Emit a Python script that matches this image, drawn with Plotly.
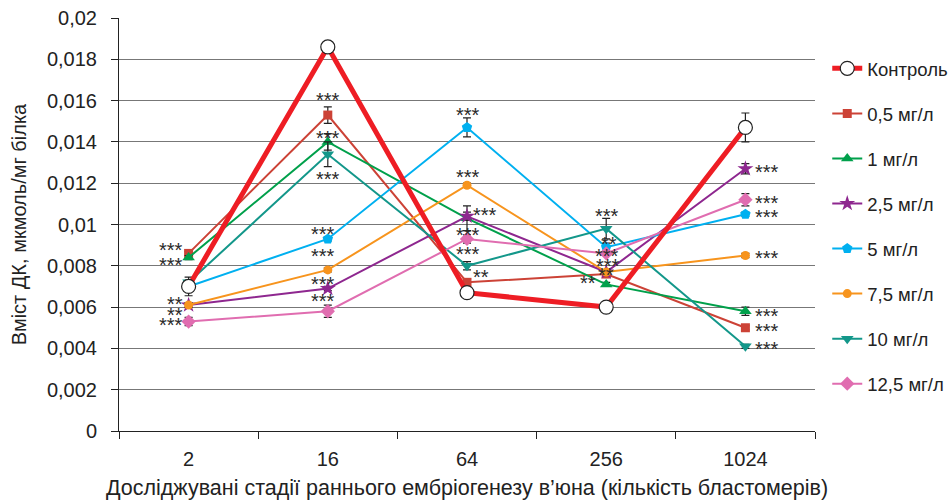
import plotly.graph_objects as go

# Stages of early loach embryogenesis (number of blastomeres)
stages = ["2", "16", "64", "256", "1024"]

# Diene conjugate content, µmol/mg protein
control = [0.0070, 0.0186, 0.0067, 0.0060, 0.0147]
c_0_5 = [0.0086, 0.0153, 0.0072, 0.0076, 0.0050]
c_1 = [0.0084, 0.0140, 0.0103, 0.0071, 0.0058]
c_2_5 = [0.0061, 0.0069, 0.0104, 0.0077, 0.0127]
c_5 = [0.0070, 0.0093, 0.0147, 0.0089, 0.0105]
c_7_5 = [0.0061, 0.0078, 0.0119, 0.0077, 0.0085]
c_10 = [0.0072, 0.0134, 0.0080, 0.0098, 0.0041]
c_12_5 = [0.0053, 0.0058, 0.0093, 0.0086, 0.0112]

# Standard errors
err_control = [0.00045, 0.0002, 0.0001, 0.0001, 0.0007]
err_0_5 = [0.0001, 0.0004, 0.0001, 0.0001, 0.0001]
err_1 = [0.0001, 0.0004, 0.0006, 0.0001, 0.0002]
err_2_5 = [0.0001, 0.0001, 0.0002, 0.0001, 0.00025]
err_5 = [0.0001, 0.0001, 0.00046, 0.0002, 0.0001]
err_7_5 = [0.0001, 0.0001, 0.0001, 0.0001, 0.0001]
err_10 = [0.0001, 0.0006, 0.0002, 0.0005, 0.0001]
err_12_5 = [0.0002, 0.0003, 0.0002, 0.0001, 0.0003]

y_ticks = [0, 0.002, 0.004, 0.006, 0.008, 0.01, 0.012, 0.014, 0.016, 0.018, 0.02]
y_tick_text = ["0", "0,002", "0,004", "0,006", "0,008", "0,01", "0,012",
               "0,014", "0,016", "0,018", "0,02"]

FONT = "Liberation Sans, Arial, sans-serif"

series = [
    # name, values, errors, colour, symbol, marker size, line width
    ("0,5 мг/л", c_0_5, err_0_5, "#cc4236", "square", 9, 2),
    ("1 мг/л", c_1, err_1, "#00a04b", "triangle-up", 11, 2),
    ("2,5 мг/л", c_2_5, err_2_5, "#8e278f", "star", 12, 2),
    ("5 мг/л", c_5, err_5, "#00b0f0", "pentagon", 11, 2),
    ("7,5 мг/л", c_7_5, err_7_5, "#f7941d", "circle", 9, 2),
    ("10 мг/л", c_10, err_10, "#13978a", "triangle-down", 11, 2),
    ("12,5 мг/л", c_12_5, err_12_5, "#e06db0", "diamond", 11, 2),
]

fig = go.Figure()

for i, (name, vals, errs, color, sym, msize, lw) in enumerate(series):
    fig.add_trace(go.Scatter(
        x=stages, y=vals, name=name, mode="lines+markers",
        line=dict(color=color, width=lw),
        marker=dict(symbol=sym, size=msize, color=color),
        error_y=dict(type="data", array=errs, color="#222", thickness=1.2, width=4),
        legendgroup=name, legendrank=i + 2,
    ))

fig.add_trace(go.Scatter(
    x=stages, y=control, name="Контроль", mode="lines+markers",
    line=dict(color="#ee1d24", width=5),
    marker=dict(symbol="circle", size=14, color="white",
                line=dict(color="#222", width=1.2)),
    error_y=dict(type="data", array=err_control, color="#222", thickness=1.2, width=4),
    legendgroup="control", legendrank=1,
))

# Significance marks: (series, stage index, text, x shift px, y shift px)
values_by_name = {name: vals for name, vals, *_ in series}
values_by_name["Контроль"] = control
marks = [
    ("0,5 мг/л", 0, "***", -18, 6), ("1 мг/л", 0, "***", -18, -4),
    ("7,5 мг/л", 0, "**", -14, 4), ("2,5 мг/л", 0, "**", -14, -7),
    ("12,5 мг/л", 0, "***", -18, 0),
    ("0,5 мг/л", 1, "***", 0, 18), ("1 мг/л", 1, "***", 0, 7),
    ("10 мг/л", 1, "***", 0, -22), ("5 мг/л", 1, "***", -5, 8),
    ("7,5 мг/л", 1, "***", -5, 17), ("2,5 мг/л", 1, "***", -5, 8),
    ("12,5 мг/л", 1, "***", -5, 13),
    ("5 мг/л", 2, "***", 1, 15), ("7,5 мг/л", 2, "***", 1, 11),
    ("1 мг/л", 2, "***", 18, 6), ("12,5 мг/л", 2, "***", 1, 7),
    ("10 мг/л", 2, "***", 1, 15), ("0,5 мг/л", 2, "**", 14, 8),
    ("10 мг/л", 3, "***", 1, 16), ("5 мг/л", 3, "**", 3, 6),
    ("12,5 мг/л", 3, "***", 1, 0), ("2,5 мг/л", 3, "***", 2, 9),
    ("7,5 мг/л", 3, "**", 0, 0), ("1 мг/л", 3, "**", -18, 4),
    ("2,5 мг/л", 4, "***", 22, 0), ("12,5 мг/л", 4, "***", 22, 0),
    ("5 мг/л", 4, "***", 22, 0), ("7,5 мг/л", 4, "***", 22, 0),
    ("1 мг/л", 4, "***", 22, -2), ("0,5 мг/л", 4, "***", 22, 0),
    ("10 мг/л", 4, "***", 22, 0),
]
glyph_drop = -3  # asterisks sit high in the em box
for name, idx, text, dx, dy in marks:
    fig.add_annotation(
        x=idx, y=values_by_name[name][idx], xref="x", yref="y",
        text=text, showarrow=False,
        xshift=dx, yshift=dy + glyph_drop,
        font=dict(family=FONT, size=20, color="#2a2a2a"),
    )

fig.update_layout(
    width=949, height=501,
    margin=dict(l=119, r=134, t=18, b=70, autoexpand=False),
    plot_bgcolor="white", paper_bgcolor="white",
    font=dict(family=FONT, color="#222"),
    showlegend=True,
    legend=dict(
        x=1.0176, y=0.923, xanchor="left", yanchor="top",
        font=dict(size=18.5, color="#222"),
        tracegroupgap=18, bgcolor="rgba(0,0,0,0)",
    ),
    xaxis=dict(
        type="category", range=[-0.5, 4.5],
        showline=True, linecolor="#222", linewidth=1,
        ticks="outside", tickson="boundaries", ticklen=7, tickcolor="#222",
        ticklabelstandoff=10,
        showgrid=False, tickfont=dict(size=20, color="#222"),
        title=dict(text="Досліджувані стадії раннього ембріогенезу в’юна (кількість бластомерів)",
                   font=dict(size=21.5, color="#222"), standoff=10),
    ),
    yaxis=dict(
        range=[0, 0.02], tickvals=y_ticks, ticktext=y_tick_text,
        showline=True, linecolor="#222", linewidth=1,
        ticks="outside", ticklen=7, tickcolor="#222",
        ticklabelstandoff=10,
        showgrid=True, gridcolor="#777", gridwidth=1,
        zeroline=False, tickfont=dict(size=20, color="#222"),
        title=dict(text="Вміст ДК, мкмоль/мг білка", font=dict(size=20, color="#222"),
                   standoff=14),
    ),
)

fig.write_html("out.html")
